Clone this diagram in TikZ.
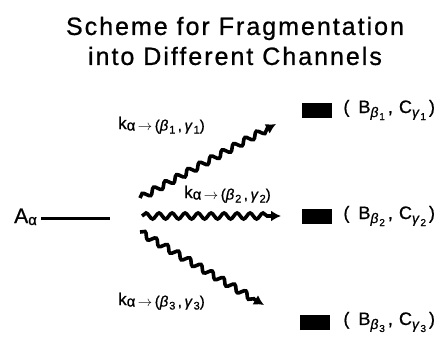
\documentclass[tikz,border=0pt]{standalone}
\usepackage{fontspec}
\setmainfont{Liberation Sans}[LetterSpace=6, FakeBold=0.8]
\newfontfamily\titlefont{Liberation Sans}[LetterSpace=8, FakeBold=0.8]
\usetikzlibrary{arrows.meta,decorations.pathmorphing,positioning}

% rate constant and product channel labels
\newcommand{\rate}[1]{k\raisebox{-1.5pt}{\fontsize{15}{15}\selectfont α\,$\rightarrow$\,(\textit{β}\raisebox{-3pt}{\fontsize{11}{11}\selectfont #1}\,,\,\textit{γ}\raisebox{-3pt}{\fontsize{11}{11}\selectfont #1})}}
\newcommand{\chan}[1]{(\, B\raisebox{-4pt}{\fontsize{14}{14}\selectfont\textit{β}\raisebox{-3pt}{\fontsize{10}{10}\selectfont #1}}\,, C\raisebox{-4pt}{\fontsize{14}{14}\selectfont\textit{γ}\raisebox{-3pt}{\fontsize{10}{10}\selectfont #1}}\,)}

\tikzset{
  wavy/.style={line width=3.6pt, -{Latex[length=10pt,width=11pt]},
    decorate, decoration={snake, amplitude=3pt, segment length=13pt, post length=8pt}},
  chanbox/.style={fill=black, minimum width=30pt, minimum height=15pt, inner sep=0pt},
  ratelabel/.style={anchor=base west, inner sep=0pt, font=\fontsize{17}{17}\selectfont},
  chanlabel/.style={inner sep=0pt, font=\fontsize{18}{18}\selectfont}
}

\begin{document}
\begin{tikzpicture}[x=1pt, y=-1pt]
    \useasboundingbox (0,0) rectangle (443,345);
    % Titre
    \node[align=center, font=\titlefont\fontsize{25}{30}\selectfont] (title) at (235,41)
        {Scheme for Fragmentation\\into Different Channels};
    % Etat initial
    \node[anchor=base west, inner sep=1pt, font=\fontsize{21}{21}\selectfont] (A) at (13,223) {A\raisebox{-2pt}{\fontsize{15}{15}\selectfont α}};
    \coordinate (fork) at (110,218);
    \draw[line width=3pt] (A.east |- fork) ++(3,0) -- (fork);
    % Departs et pointes des fleches ondulees
    \coordinate (s1) at (140,198);
    \coordinate (s2) at (142,216);
    \coordinate (s3) at (140,232);
    \coordinate (t1) at (276,124);
    \coordinate (t2) at (281,216);
    \coordinate (t3) at (264,305);
    % Canaux
    \node[chanbox] (b1) at (317,110) {};
    \node[chanbox] (b2) at (317,216) {};
    \node[chanbox] (b3) at (315,322) {};
    \node[chanlabel, right=11pt of b1] (c1) {\chan{1}};
    \node[chanlabel, right=11pt of b2] (c2) {\chan{2}};
    \node[chanlabel, right=13pt of b3] (c3) {\chan{3}};
    % Fleches ondulees
    \draw[wavy] (s1) -- (t1);
    \draw[wavy] (s2) -- (t2);
    \draw[wavy] (s3) -- (t3);
    % Constantes de vitesse
    \node[ratelabel] (k1) at (118,129) {\rate{1}};
    \node[ratelabel] (k2) at (184,198) {\rate{2}};
    \node[ratelabel] (k3) at (118,305) {\rate{3}};
\end{tikzpicture}
\end{document}
